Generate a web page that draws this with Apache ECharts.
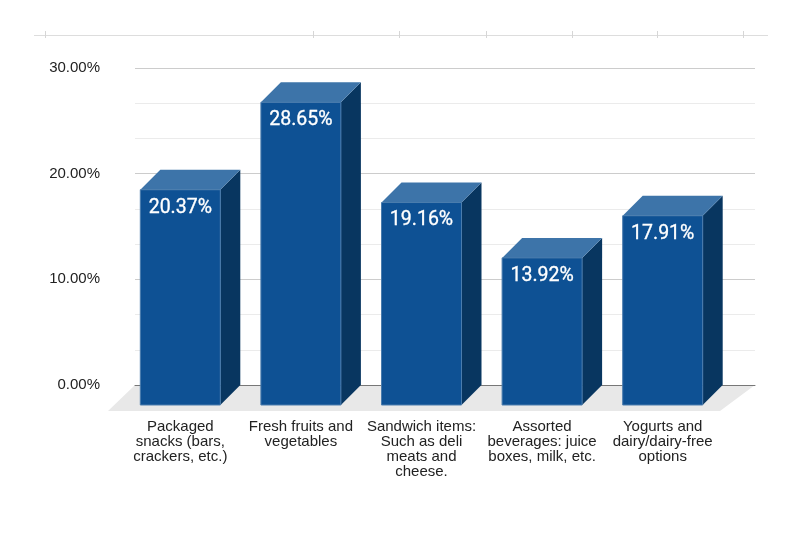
<!DOCTYPE html>
<html>
<head>
<meta charset="utf-8">
<script src="https://cdn.jsdelivr.net/npm/echarts@6/dist/echarts.min.js"></script>
<style>
  html, body { margin: 0; padding: 0; background: #fff; }
  #charts { width: 804px; height: 534px; }
</style>
</head>
<body>
<div id="charts"></div>
<script>
// data
var categories = [
  'Packaged\nsnacks (bars,\ncrackers, etc.)',
  'Fresh fruits and\nvegetables',
  'Sandwich items:\nSuch as deli\nmeats and\ncheese.',
  'Assorted\nbeverages: juice\nboxes, milk, etc.',
  'Yogurts and\ndairy/dairy-free\noptions'
];
var shares = [20.37, 28.65, 19.16, 13.92, 17.91];
var yTicks = [0, 10, 20, 30];

// layout
var DEPTH = 20;          // 3d offset of the back face
var BAR_W = 80;
var topRuleTicks = [45, 313, 399, 486, 572, 657, 743];

var chartDom = document.getElementById('charts');
var myChart = echarts.init(chartDom);

function renderBar(params, api) {
  var i = api.value(0);
  var v = api.value(1);
  var top = api.coord([i, v]);
  var base = api.coord([i, 0]);
  var x0 = top[0] - BAR_W / 2, x1 = top[0] + BAR_W / 2;
  var yt = top[1], yb = base[1];
  return {
    type: 'group',
    children: [
      {
        type: 'polygon',
        shape: { points: [[x1, yt], [x1 + DEPTH, yt - DEPTH], [x1 + DEPTH, yb - DEPTH], [x1, yb]] },
        style: { fill: '#083660' }
      },
      {
        type: 'polygon',
        shape: { points: [[x0, yt], [x1, yt], [x1 + DEPTH, yt - DEPTH], [x0 + DEPTH, yt - DEPTH]] },
        style: { fill: '#3d74a9' }
      },
      {
        type: 'rect',
        shape: { x: x0, y: yt, width: BAR_W, height: yb - yt },
        style: { fill: '#0e5194', stroke: '#4a7cad', lineWidth: 1 }
      },
      {
        type: 'text',
        x: top[0], y: yt + 18,
        style: {
          text: v.toFixed(2) + '%',
          fill: '#fff',
          font: 'normal 19.5px Roboto',
          align: 'center',
          verticalAlign: 'middle',
          stroke: '#fff',
          lineWidth: 0.3
        }
      }
    ]
  };
}

var option = {
  animation: false,
  grid: [
    { left: 135, right: 49, top: 68, bottom: 149 },
    { left: 120, right: 81, top: 88, bottom: 129 }
  ],
  graphic: [
    {
      type: 'polygon', z: 0, silent: true,
      shape: { points: [[135, 385], [755, 385], [720, 411], [108, 411]] },
      style: { fill: '#e8e8e8' }
    },
    {
      type: 'line', silent: true,
      shape: { x1: 34, y1: 35.5, x2: 768, y2: 35.5 },
      style: { stroke: '#dddddd', lineWidth: 1 }
    }
  ].concat(topRuleTicks.map(function (x) {
    return {
      type: 'line', silent: true,
      shape: { x1: x + 0.5, y1: 31, x2: x + 0.5, y2: 38 },
      style: { stroke: '#d6d6d6', lineWidth: 1 }
    };
  })),
  xAxis: [
    {
      gridIndex: 0, type: 'category', data: categories,
      axisLabel: { show: false }, axisTick: { show: false },
      axisLine: { lineStyle: { color: '#777', width: 1 } },
      z: 1
    },
    {
      gridIndex: 1, type: 'category', data: categories,
      axisLine: { show: false }, axisTick: { show: false },
      axisLabel: {
        interval: 0, margin: 14,
        fontFamily: 'Liberation Sans, Arial', fontSize: 15, lineHeight: 15, color: '#222'
      }
    }
  ],
  yAxis: [
    {
      gridIndex: 0, type: 'value',
      min: yTicks[0], max: yTicks[yTicks.length - 1], interval: 10,
      axisLine: { show: false }, axisTick: { show: false },
      axisLabel: {
        margin: 35,
        fontFamily: 'Liberation Sans, Arial', fontSize: 15, color: '#222',
        formatter: function (v) { return v.toFixed(2) + '%'; }
      },
      splitLine: { lineStyle: { color: '#cccccc' } },
      minorTick: { show: false, splitNumber: 3 },
      minorSplitLine: { show: true, lineStyle: { color: '#ebebeb' } }
    },
    {
      gridIndex: 1, type: 'value', min: 0, max: 30, show: false
    }
  ],
  series: [
    {
      type: 'custom',
      xAxisIndex: 1, yAxisIndex: 1,
      z: 5,
      renderItem: renderBar,
      data: shares.map(function (v, i) { return [i, v]; })
    }
  ]
};
option && myChart.setOption(option);
</script>
</body>
</html>
